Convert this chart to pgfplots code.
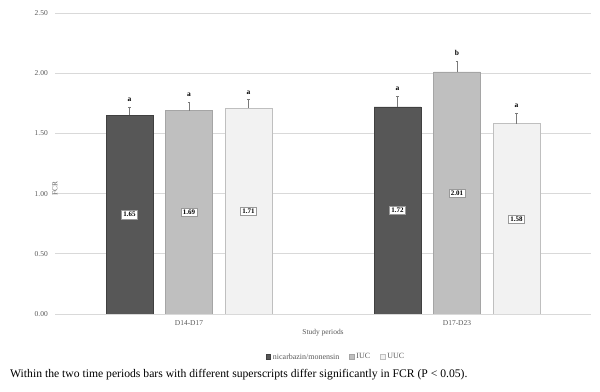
\documentclass[border=0pt]{standalone}
\usepackage{pgfplots}
\pgfplotsset{compat=1.18}
\usepackage{fontspec}
\setmainfont{Liberation Serif}
\definecolor{cA}{HTML}{575757}
\definecolor{cAb}{HTML}{404040}
\definecolor{cB}{HTML}{BFBFBF}
\definecolor{cBb}{HTML}{A5A5A5}
\definecolor{cC}{HTML}{F2F2F2}
\definecolor{cCb}{HTML}{BFBFBF}
\definecolor{txt}{HTML}{595959}
\definecolor{grd}{HTML}{D9D9D9}
\begin{document}
\begin{tikzpicture}
\useasboundingbox[fill=white] (0,0) rectangle (600bp,392bp);
\begin{axis}[
  at={(55bp,78bp)}, anchor=south west,
  scale only axis, width=536bp, height=301bp,
  xmin=-0.5, xmax=1.5, ymin=0, ymax=2.5,
  xtick={0,1}, xticklabels={D14-D17,D17-D23},
  ytick={0,0.5,1,1.5,2,2.5},
  yticklabel={\pgfmathprintnumber[fixed,fixed zerofill,precision=2]{\tick}},
  /pgf/number format/assume math mode=true,
  ymajorgrids, grid style={grd, line width=0.75bp},
  axis line style={draw=none}, major tick length=0pt,
  tick label style={font=\fontsize{7.5}{8}\selectfont, text=txt},
  yticklabel style={anchor=east, inner sep=0pt, xshift=-7bp},
  xticklabel style={anchor=center, inner sep=0pt, yshift=-9bp},
  xlabel={Study periods}, ylabel={FCR},
  label style={font=\fontsize{7.5}{8}\selectfont, text=txt},
  xlabel style={at={(axis description cs:0.5,0)}, anchor=center, yshift=-19bp},
  ylabel style={at={(axis description cs:0,0.5)}, anchor=center, xshift=-25bp, rotate=0},
  legend columns=3,
  legend style={draw=none, fill=none, at={(axis description cs:0.5,0)}, anchor=center,
    xshift=13bp, yshift=-43bp, font=\fontsize{8}{9}\selectfont, text=txt,
    /tikz/every even column/.append style={column sep=8bp}},
  legend image code/.code={\draw[#1] (0bp,-2bp) rectangle (4.5bp,2.5bp);},
  error bars/error bar style={draw=txt!80, line width=0.6bp},
  error bars/error mark options={rotate=90, mark size=1.2bp, draw=txt!80, line width=0.6bp},
]
\addplot[ybar, bar shift=0pt, bar width=0.175, fill=cA, draw=cAb, line width=0.6bp,
  error bars/.cd, y dir=plus, y explicit]
  table[x=x, y=y, y error=e] {
x y e
-0.222 1.65 0.07
0.778 1.72 0.09
};
\addlegendentry{nicarbazin/monensin}
\addplot[ybar, bar shift=0pt, bar width=0.175, fill=cB, draw=cBb, line width=0.6bp,
  error bars/.cd, y dir=plus, y explicit]
  table[x=x, y=y, y error=e] {
x y e
0 1.69 0.07
1 2.01 0.09
};
\addlegendentry{IUC}
\addplot[ybar, bar shift=0pt, bar width=0.175, fill=cC, draw=cCb, line width=0.6bp,
  error bars/.cd, y dir=plus, y explicit]
  table[x=x, y=y, y error=e] {
x y e
0.222 1.71 0.07
1.222 1.58 0.09
};
\addlegendentry{UUC}
% value labels at mid-height
\addplot[forget plot, draw=none, mark=none, nodes near coords, point meta=explicit symbolic,
  nodes near coords style={anchor=center, fill=white, draw=black!40, line width=0.3bp,
    inner sep=1.8bp, font=\bfseries\fontsize{7}{8}\selectfont, text=black}]
  table[x=x, y=y, meta=l] {
x y l
-0.222 0.825 1.65
0 0.845 1.69
0.222 0.855 1.71
0.778 0.86 1.72
1 1.005 2.01
1.222 0.79 1.58
};
% significance letters
\addplot[forget plot, draw=none, mark=none, nodes near coords, point meta=explicit symbolic,
  nodes near coords style={anchor=base, inner sep=0pt, yshift=5.5bp,
    font=\bfseries\fontsize{7.5}{8}\selectfont, text=black}]
  table[x=x, y=y, meta=l] {
x y l
-0.222 1.72 a
0 1.76 a
0.222 1.78 a
0.778 1.81 a
1 2.10 b
1.222 1.67 a
};
\end{axis}
\node[anchor=west, inner sep=0pt, font=\fontsize{11.7}{13}\selectfont] at (10bp,17bp)
  {Within the two time periods bars with different superscripts differ significantly in FCR (P < 0.05).};
\end{tikzpicture}
\end{document}
